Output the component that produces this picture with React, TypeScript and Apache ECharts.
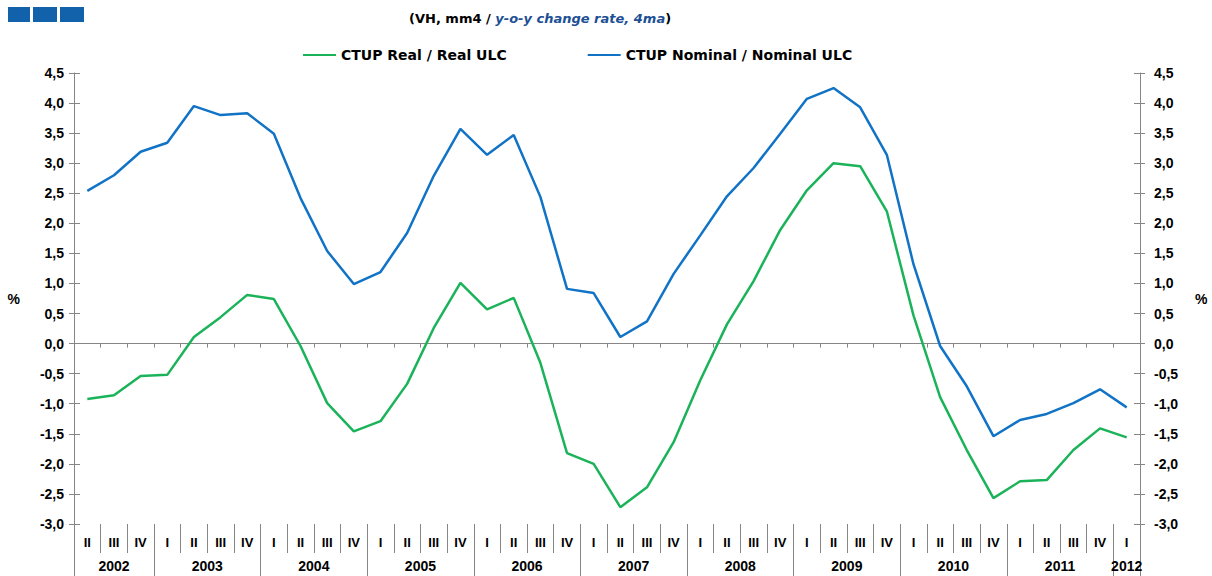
import React, { useEffect, useRef } from "react";
import * as echarts from "echarts";

const quarterLabels = [
  "II", "III", "IV",
  "I", "II", "III", "IV",
  "I", "II", "III", "IV",
  "I", "II", "III", "IV",
  "I", "II", "III", "IV",
  "I", "II", "III", "IV",
  "I", "II", "III", "IV",
  "I", "II", "III", "IV",
  "I", "II", "III", "IV",
  "I", "II", "III", "IV",
  "I",
];
const years = ["2002", "2003", "2004", "2005", "2006", "2007", "2008", "2009", "2010", "2011", "2012"];
const quartersPerYear = [3, 4, 4, 4, 4, 4, 4, 4, 4, 4, 1];

const realUlc = [
  -0.92, -0.86, -0.54, -0.52, 0.11, 0.44, 0.81, 0.74, -0.04, -0.99,
  -1.46, -1.29, -0.67, 0.26, 1.01, 0.57, 0.76, -0.32, -1.82, -2.0,
  -2.72, -2.39, -1.64, -0.61, 0.32, 1.04, 1.89, 2.55, 3.0, 2.95,
  2.2, 0.47, -0.89, -1.77, -2.57, -2.29, -2.27, -1.77, -1.41, -1.56,
];
const nominalUlc = [
  2.54, 2.8, 3.19, 3.34, 3.95, 3.8, 3.83, 3.49, 2.42, 1.54,
  0.99, 1.19, 1.84, 2.79, 3.57, 3.14, 3.47, 2.44, 0.91, 0.84,
  0.11, 0.37, 1.16, 1.8, 2.45, 2.92, 3.49, 4.07, 4.25, 3.93,
  3.14, 1.32, -0.04, -0.71, -1.54, -1.27, -1.17, -0.99, -0.76, -1.06,
];

const seriesNames = ["CTUP Real / Real ULC", "CTUP Nominal / Nominal ULC"];
const yMin = -3;
const yMax = 4.5;
const yStep = 0.5;

const FONT = "Liberation Sans, Arial, sans-serif";
const WIDE_FONT = "DejaVu Sans, Liberation Sans, sans-serif";
const AXIS_GRAY = "#868686";
const GREEN = "#1bb35a";
const BLUE = "#1173c6";

export default function App() {
  const ref = useRef<HTMLDivElement>(null);

  useEffect(() => {
    if (!ref.current) return;
    const chart = echarts.init(ref.current, undefined, { renderer: "svg" });

    // half-quarter year axis (81 positions, boundaryGap false)
    const nHalf = quarterLabels.length * 2 + 1;
    const yearAxisData: string[] = new Array(nHalf).fill("");
    const boundaries = new Set<number>();
    let s = 0;
    years.forEach((y, i) => {
      const n = quartersPerYear[i];
      boundaries.add(2 * s);
      yearAxisData[2 * s + n] = y;
      s += n;
    });
    boundaries.add(2 * s);

    const fmt = (v: number) => v.toFixed(1).replace(".", ",");
    const labelStyle = { color: "#000", fontWeight: "bold" as const, fontFamily: FONT, fontSize: 14 };

    const yBase = {
      type: "value" as const,
      min: yMin,
      max: yMax,
      interval: yStep,
      splitLine: { show: false },
    };

    chart.setOption({
      animation: false,
      backgroundColor: "#fff",
      title: {
        text: "{a|(VH, mm4 / }{b|y-o-y change rate, 4ma}{a|)}",
        left: 404,
        top: 7,
        textStyle: {
          rich: {
            a: { fontFamily: WIDE_FONT, fontWeight: "bold", fontSize: 13, color: "#000" },
            b: { fontFamily: WIDE_FONT, fontWeight: "bold", fontStyle: "italic", fontSize: 13, color: "#1d4f94" },
          },
        },
      },
      legend: {
        top: 43,
        left: 298,
        icon: "rect",
        itemWidth: 33,
        itemHeight: 2,
        itemGap: 81,
        textStyle: { color: "#000", fontWeight: "bold", fontFamily: WIDE_FONT, fontSize: 14 },
        data: seriesNames,
      },
      graphic: [
        { type: "rect", shape: { x: 8, y: 7, width: 22, height: 15 }, style: { fill: "#1261ab" } },
        { type: "rect", shape: { x: 33, y: 7, width: 24, height: 15 }, style: { fill: "#1261ab" } },
        { type: "rect", shape: { x: 60, y: 7, width: 24, height: 15 }, style: { fill: "#1261ab" } },
      ],
      grid: { left: 74, right: 72, top: 73, bottom: 52, containLabel: false },
      xAxis: [
        {
          type: "category",
          data: quarterLabels,
          boundaryGap: true,
          position: "bottom",
          axisLine: { onZero: true, lineStyle: { color: AXIS_GRAY, width: 1 } },
          axisTick: { show: true, interval: 0, length: 4, lineStyle: { color: AXIS_GRAY } },
          axisLabel: { show: false },
        },
        {
          type: "category",
          data: quarterLabels,
          boundaryGap: true,
          position: "bottom",
          offset: 0,
          axisLine: { show: false, onZero: false },
          axisTick: { show: true, interval: 0, length: 29, lineStyle: { color: AXIS_GRAY } },
          axisLabel: { interval: 0, margin: 12, ...labelStyle, fontSize: 13 },
        },
        {
          type: "category",
          data: yearAxisData,
          boundaryGap: false,
          position: "bottom",
          offset: 0,
          axisLine: { show: false, onZero: false },
          axisTick: {
            show: true,
            interval: (idx: number) => boundaries.has(idx),
            length: 52,
            lineStyle: { color: AXIS_GRAY },
          },
          axisLabel: {
            interval: (_idx: number, val: string) => val !== "",
            margin: 35,
            ...labelStyle,
          },
        },
      ],
      yAxis: [
        {
          ...yBase,
          position: "left",
          name: "%",
          nameLocation: "middle",
          nameRotate: 0,
          nameGap: 54,
          nameTextStyle: labelStyle,
          axisLine: { show: true, onZero: false, lineStyle: { color: AXIS_GRAY } },
          axisTick: { show: true, length: 5, lineStyle: { color: AXIS_GRAY } },
          axisLabel: { formatter: fmt, margin: 10, ...labelStyle },
        },
        {
          ...yBase,
          position: "right",
          name: "%",
          nameLocation: "middle",
          nameRotate: 0,
          nameGap: 55,
          nameTextStyle: labelStyle,
          axisLine: { show: true, onZero: false, lineStyle: { color: AXIS_GRAY } },
          axisTick: { show: true, length: 5, lineStyle: { color: AXIS_GRAY } },
          axisLabel: { formatter: fmt, margin: 14, ...labelStyle },
        },
        {
          ...yBase,
          position: "left",
          axisLine: { show: false },
          axisTick: { show: true, inside: true, length: 6, lineStyle: { color: AXIS_GRAY } },
          axisLabel: { show: false },
        },
        {
          ...yBase,
          position: "right",
          axisLine: { show: false },
          axisTick: { show: true, inside: true, length: 6, lineStyle: { color: AXIS_GRAY } },
          axisLabel: { show: false },
        },
      ],
      series: [
        {
          name: seriesNames[0],
          type: "line",
          data: realUlc,
          xAxisIndex: 0,
          yAxisIndex: 0,
          symbol: "none",
          lineStyle: { color: GREEN, width: 2.5 },
          itemStyle: { color: GREEN },
        },
        {
          name: seriesNames[1],
          type: "line",
          data: nominalUlc,
          xAxisIndex: 0,
          yAxisIndex: 0,
          symbol: "none",
          lineStyle: { color: BLUE, width: 2.5 },
          itemStyle: { color: BLUE },
        },
      ],
    });

    return () => chart.dispose();
  }, []);

  return <div ref={ref} style={{ width: 1212, height: 576, position: "absolute", left: 0, top: 0 }} />;
}
